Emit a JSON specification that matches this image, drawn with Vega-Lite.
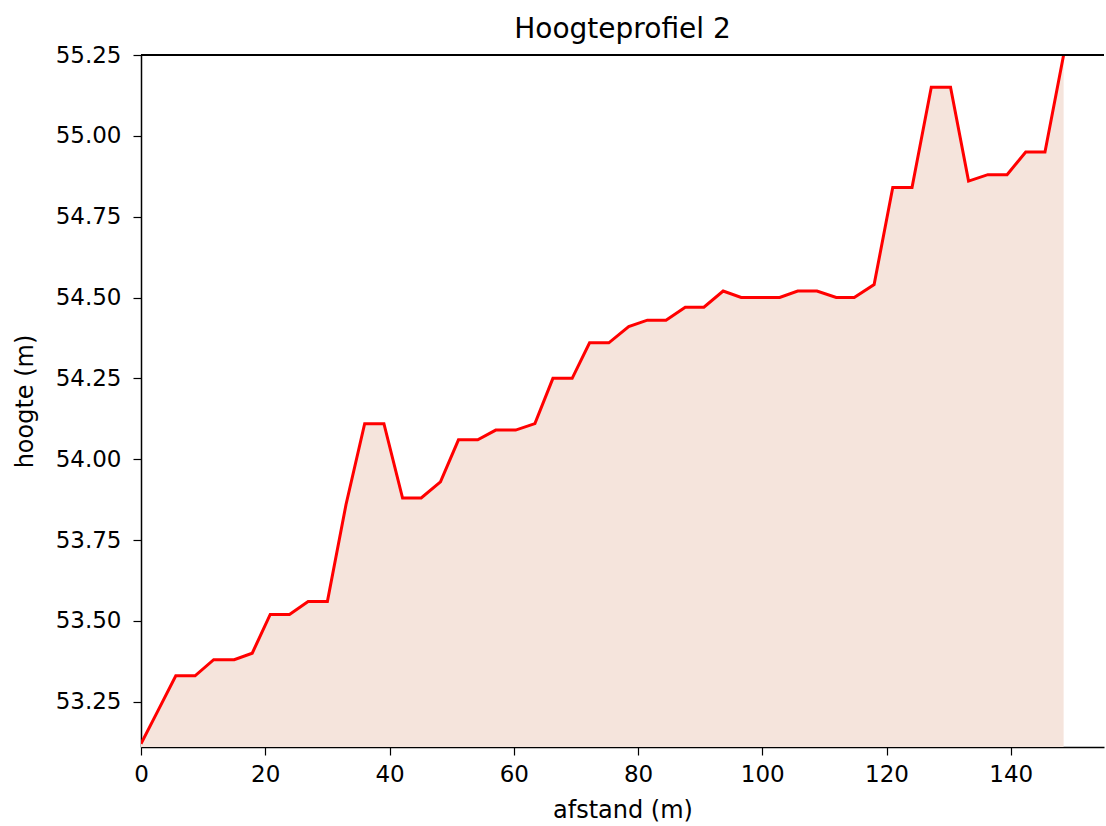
{
  "$schema": "https://vega.github.io/schema/vega-lite/v6.json",
  "width": 963,
  "height": 692,
  "autosize": "none",
  "padding": {"left": 141, "top": 55, "right": 2, "bottom": 79},
  "background": "white",
  "title": {"text": "Hoogteprofiel 2", "font": "DejaVu Sans", "fontSize": 28, "fontWeight": "normal", "color": "black", "offset": 0},
  "config": {
    "view": {"stroke": null},
    "axis": {
      "labelFont": "DejaVu Sans", "labelFontSize": 23, "labelColor": "black",
      "titleFont": "DejaVu Sans", "titleFontSize": 24, "titleFontWeight": "normal", "titleColor": "black",
      "grid": false, "domain": true, "domainColor": "black", "domainWidth": 1.5,
      "tickColor": "black", "tickSize": 8, "tickWidth": 1.2
    }
  },
  "data": {
    "values": [
      {"afstand": 0, "hoogte": 53.12},
      {"afstand": 2.8, "hoogte": 53.225},
      {"afstand": 5.6, "hoogte": 53.33},
      {"afstand": 8.7, "hoogte": 53.33},
      {"afstand": 11.7, "hoogte": 53.38},
      {"afstand": 15.0, "hoogte": 53.38},
      {"afstand": 17.9, "hoogte": 53.40},
      {"afstand": 20.8, "hoogte": 53.52},
      {"afstand": 23.9, "hoogte": 53.52},
      {"afstand": 26.9, "hoogte": 53.56},
      {"afstand": 30.0, "hoogte": 53.56},
      {"afstand": 33.0, "hoogte": 53.86},
      {"afstand": 36.0, "hoogte": 54.11},
      {"afstand": 39.1, "hoogte": 54.11},
      {"afstand": 42.1, "hoogte": 53.88},
      {"afstand": 45.1, "hoogte": 53.88},
      {"afstand": 48.2, "hoogte": 53.93},
      {"afstand": 51.1, "hoogte": 54.06},
      {"afstand": 54.2, "hoogte": 54.06},
      {"afstand": 57.1, "hoogte": 54.09},
      {"afstand": 60.3, "hoogte": 54.09},
      {"afstand": 63.4, "hoogte": 54.11},
      {"afstand": 66.3, "hoogte": 54.25},
      {"afstand": 69.4, "hoogte": 54.25},
      {"afstand": 72.2, "hoogte": 54.36},
      {"afstand": 75.3, "hoogte": 54.36},
      {"afstand": 78.5, "hoogte": 54.41},
      {"afstand": 81.5, "hoogte": 54.43},
      {"afstand": 84.5, "hoogte": 54.43},
      {"afstand": 87.6, "hoogte": 54.47},
      {"afstand": 90.6, "hoogte": 54.47},
      {"afstand": 93.7, "hoogte": 54.52},
      {"afstand": 96.6, "hoogte": 54.50},
      {"afstand": 99.7, "hoogte": 54.50},
      {"afstand": 102.8, "hoogte": 54.50},
      {"afstand": 105.7, "hoogte": 54.52},
      {"afstand": 108.8, "hoogte": 54.52},
      {"afstand": 111.9, "hoogte": 54.50},
      {"afstand": 114.8, "hoogte": 54.50},
      {"afstand": 118.0, "hoogte": 54.54},
      {"afstand": 121.0, "hoogte": 54.84},
      {"afstand": 124.1, "hoogte": 54.84},
      {"afstand": 127.2, "hoogte": 55.15},
      {"afstand": 130.3, "hoogte": 55.15},
      {"afstand": 133.2, "hoogte": 54.86},
      {"afstand": 136.3, "hoogte": 54.88},
      {"afstand": 139.4, "hoogte": 54.88},
      {"afstand": 142.4, "hoogte": 54.95},
      {"afstand": 145.5, "hoogte": 54.95},
      {"afstand": 148.5, "hoogte": 55.25}
    ]
  },
  "encoding": {
    "x": {
      "field": "afstand", "type": "quantitative", "title": "afstand (m)",
      "scale": {"domain": [0, 155], "nice": false, "zero": false},
      "axis": {"values": [0, 20, 40, 60, 80, 100, 120, 140], "labelPadding": 8, "titlePadding": 12, "labelFlush": false}
    },
    "y": {
      "field": "hoogte", "type": "quantitative", "title": "hoogte (m)",
      "scale": {"domain": [53.11, 55.25], "nice": false, "zero": false},
      "axis": {"values": [53.25, 53.5, 53.75, 54.0, 54.25, 54.5, 54.75, 55.0, 55.25], "format": ".2f", "labelPadding": 12, "titlePadding": 18, "labelFlush": false}
    }
  },
  "layer": [
    {
      "mark": {"type": "area", "color": "#f5e4dc", "clip": true},
      "encoding": {"y2": {"datum": 53.11}}
    },
    {
      "mark": {"type": "line", "color": "#ff0000", "strokeWidth": 3, "clip": true}
    },
    {
      "mark": {"type": "rule", "color": "black", "strokeWidth": 1.5},
      "encoding": {"x": null, "y": {"datum": 55.25, "type": "quantitative"}}
    }
  ]
}
